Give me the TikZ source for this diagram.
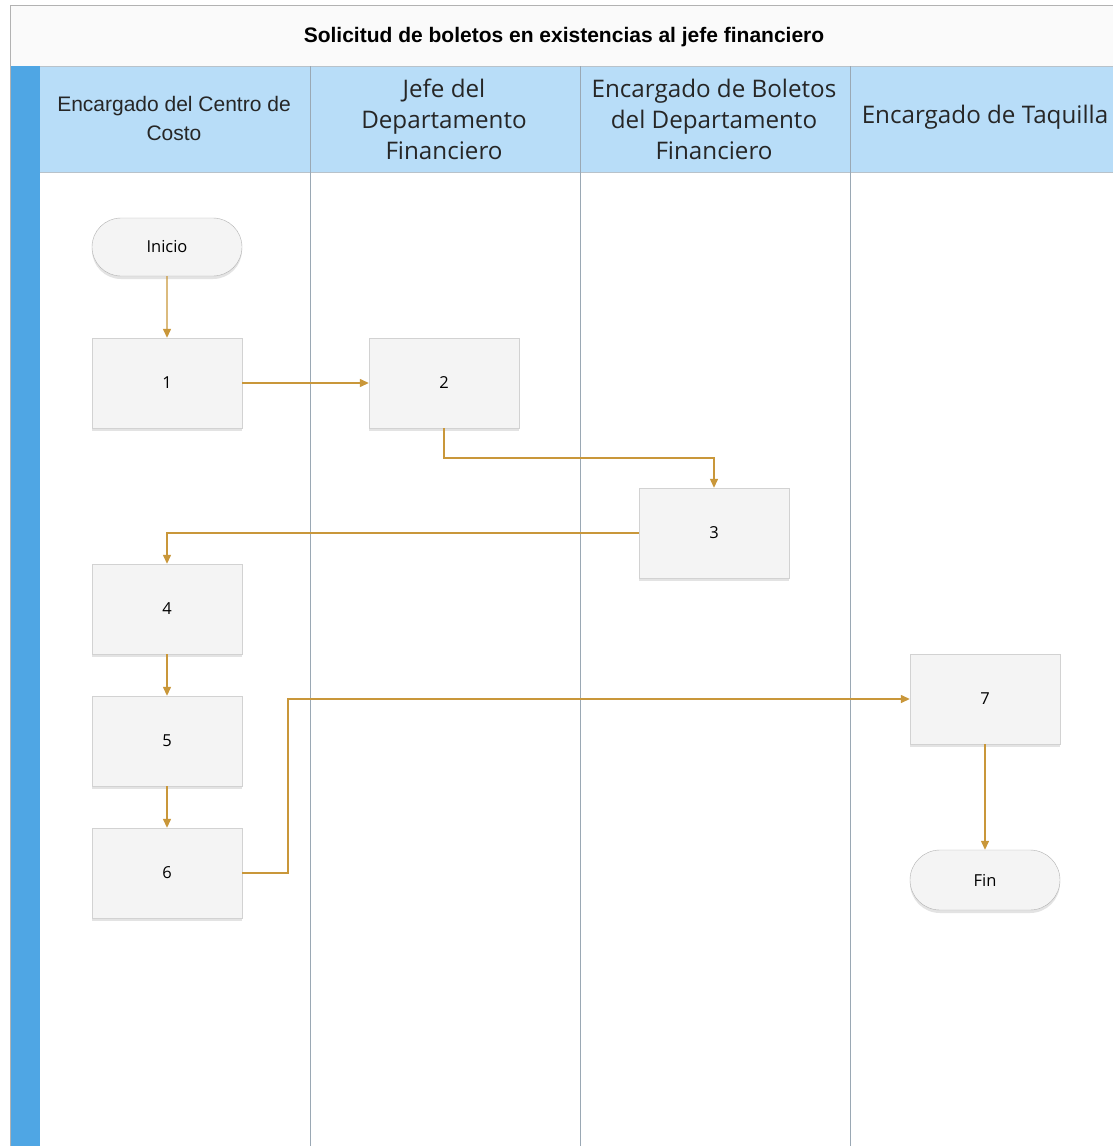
\documentclass[tikz,border=0pt]{standalone}
\usepackage{fontspec}
\setmainfont{Liberation Sans}
\newfontfamily\lanefont{Open Sans}
\usetikzlibrary{arrows.meta,shapes.misc,shadows}
\definecolor{hdrblue}{HTML}{B8DDF8}
\definecolor{stripblue}{HTML}{4FA6E4}
\definecolor{laneline}{HTML}{9AA8B4}
\definecolor{flowgold}{HTML}{C9973A}
\definecolor{boxfill}{HTML}{F4F4F4}
\definecolor{boxline}{HTML}{D2D2D2}
\begin{document}
\begin{tikzpicture}[x=1pt,y=-1pt,
  stepbox/.style={draw=boxline,fill=boxfill,minimum width=150pt,minimum height=90pt,
    inner sep=0pt,font=\lanefont\fontsize{16.5}{18}\selectfont,
    drop shadow={shadow xshift=0pt,shadow yshift=-3pt,fill=black!18,opacity=.6}},
  termbox/.style={draw=boxline!85!black,fill=boxfill,rounded rectangle,minimum width=150pt,
    minimum height=58pt,inner sep=0pt,font=\lanefont\fontsize{16.5}{18}\selectfont,
    drop shadow={shadow xshift=0pt,shadow yshift=-3pt,fill=black!18,opacity=.6}},
  flow/.style={draw=flowgold,line width=1.3pt,-{Triangle[length=9pt,width=8pt]}},
  lanehead/.style={align=center,font=\lanefont\fontsize{24.2}{31}\selectfont,text=black!85}]
\useasboundingbox (0,0) rectangle (1113,1146);
\fill[white] (0,0) rectangle (1113,1146);
% pool title
\draw[draw=black!30,fill=black!2] (10,5) rectangle (1125,66);
\node[font=\bfseries\fontsize{21}{24}\selectfont] (title) at (564,37) {Solicitud de boletos en existencias al jefe financiero};
% left strip and header band
\fill[stripblue] (10,66) rectangle (40,1150);
\draw[black!30] (10,66) -- (10,1150);
\fill[hdrblue] (40,66) rectangle (1125,172);
\draw[laneline!70] (40,66) -- (1125,66);
\draw[laneline!70] (40,172) -- (1125,172);
% lane separators
\foreach \lx in {310,580,850} \draw[laneline,line width=0.8pt] (\lx,66) -- (\lx,1150);
% lane headings
\node[align=center,font=\fontsize{21}{29}\selectfont,text=black!85] (h1) at (174,118) {Encargado del Centro de\\Costo};
\node[lanehead] (h2) at (444,119) {Jefe del\\Departamento\\Financiero};
\node[lanehead] (h3) at (714,119) {Encargado de Boletos\\del Departamento\\Financiero};
\node[lanehead] (h4) at (985,117) {Encargado de Taquilla};
% flow shapes
\node[termbox] (ini) at (167,247) {Inicio};
\node[stepbox] (s1) at (167,383) {1};
\node[stepbox] (s2) at (444,383) {2};
\node[stepbox] (s3) at (714,533) {3};
\node[stepbox] (s4) at (167,609) {4};
\node[stepbox] (s5) at (167,741) {5};
\node[stepbox] (s6) at (167,873) {6};
\node[stepbox] (s7) at (985,699) {7};
\node[termbox,minimum height=60pt] (fin) at (985,880) {Fin};
% connectors
\draw[flow] (ini) -- (s1);
\draw[flow] (s1) -- (s2);
\draw[flow] (s2.south) |- (579,458) -| (s3.north);
\draw[flow] (s3.west) -| (s4.north);
\draw[flow] (s4) -- (s5);
\draw[flow] (s5) -- (s6);
\draw[flow] (s6.east) -- (288,873) |- (s7.west);
\draw[flow] (s7) -- (fin);
\end{tikzpicture}
\end{document}
